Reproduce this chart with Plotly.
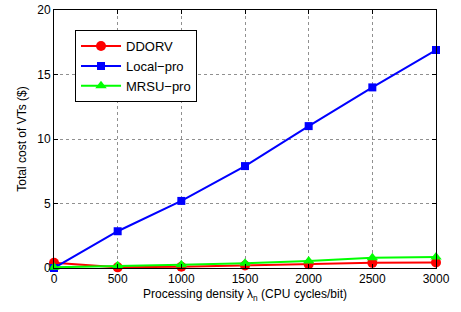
import plotly.graph_objects as go

x_vals = [0, 500, 1000, 1500, 2000, 2500, 3000]
ddorv = [0.4, 0.05, 0.1, 0.2, 0.3, 0.4, 0.42]
local_pro = [0.0, 2.85, 5.2, 7.9, 11.0, 14.0, 16.9]
mrsu_pro = [0.05, 0.18, 0.26, 0.36, 0.55, 0.8, 0.85]
x_ticks = [0, 500, 1000, 1500, 2000, 2500, 3000]
y_ticks = [0, 5, 10, 15, 20]

fig = go.Figure()
series = [
    ("DDORV", ddorv, "#ff0000", "circle", 10),
    ("Local\u2212pro", local_pro, "#0000ff", "square", 8),
    ("MRSU\u2212pro", mrsu_pro, "#00ff00", "triangle-up", 10),
]
for name, ys, col, sym, sz in series:
    fig.add_trace(go.Scatter(
        x=x_vals, y=ys, name=name, mode="lines+markers",
        line=dict(color=col, width=2),
        marker=dict(color=col, symbol=sym, size=sz),
        cliponaxis=False,
    ))

axis_common = dict(
    showline=True, linecolor="black", linewidth=1, mirror="ticks",
    ticks="inside", ticklen=4, tickcolor="black",
    showgrid=True, gridcolor="#909090", griddash="dot", gridwidth=1,
    zeroline=False, tickfont=dict(size=12, color="black"),
    automargin=False,
)
fig.update_xaxes(range=[0, 3000], tickvals=x_ticks,
                 title=dict(text="Processing density \u03bb<sub>n</sub> (CPU cycles/bit)",
                            font=dict(size=12, color="black"), standoff=4),
                 **axis_common)
fig.update_yaxes(range=[0, 20], tickvals=y_ticks,
                 title=dict(text="Total cost of VTs ($)",
                            font=dict(size=12, color="black"), standoff=8),
                 **axis_common)
fig.update_layout(
    width=461, height=312,
    margin=dict(l=54, r=25, t=10, b=44, autoexpand=False),
    paper_bgcolor="white", plot_bgcolor="white",
    font=dict(family="Liberation Sans, Arial, sans-serif", size=12, color="black"),
    legend=dict(x=0.055, y=0.922, xanchor="left", yanchor="top",
                bordercolor="black", borderwidth=1, bgcolor="white",
                font=dict(size=13), tracegroupgap=0, itemwidth=40),
    showlegend=True,
)
fig.write_html("out.html", post_script="document.body.style.margin='0';",
               config={"displayModeBar": False})
